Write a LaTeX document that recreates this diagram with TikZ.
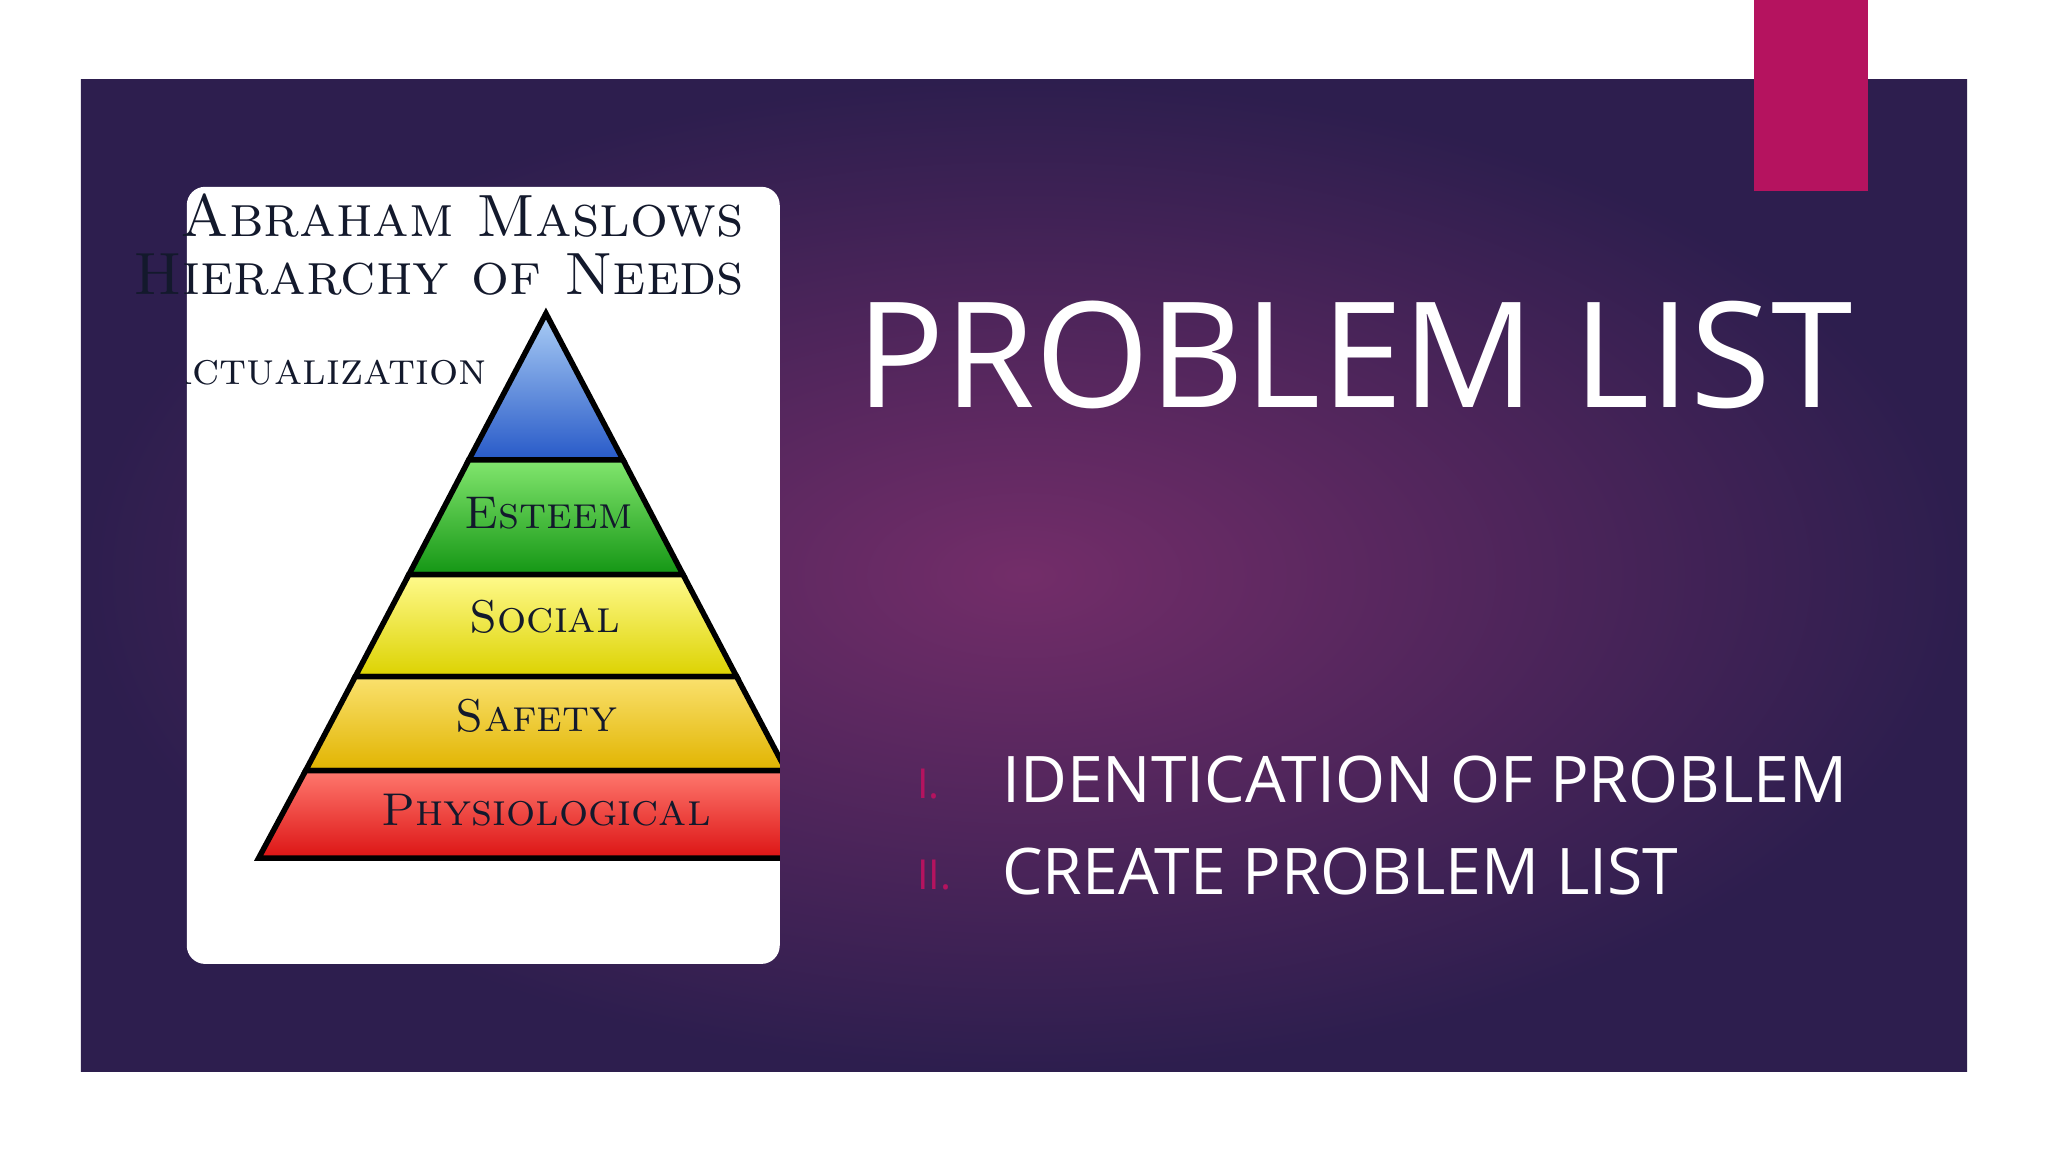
\documentclass[tikz,border=0pt]{standalone}
\usepackage{fontspec}
\newfontfamily\osans{Open Sans}
\usetikzlibrary{shadings}
\definecolor{magenta}{HTML}{B5135F}
\definecolor{navy}{HTML}{1F2A4A}
\tikzset{lbl/.style={font=\fontsize{10}{12}\selectfont\scshape, text=navy!60!black},
 band/.style={draw=black, line width=1.2pt}}
\begin{document}
\begin{tikzpicture}[x=0.1mm,y=-0.1mm]
\useasboundingbox (0,0) rectangle (1568,882);
\fill[white] (0,0) rectangle (1568,882);
\shade[inner color={rgb,255:red,115;green,45;blue,105}, outer color={rgb,255:red,45;green,30;blue,78}] (62,61) rectangle (1506,820);
\fill[magenta] (1343,0) rectangle (1430,146);
\node (card) [fill=white, rounded corners=4pt, minimum width=45.4mm, minimum height=59.5mm, inner sep=0] at (370,440.5) {};
\begin{scope}
\clip (143,143) rectangle (597,738);
\shade[band, top color={rgb,255:red,170;green,205;blue,245}, bottom color={rgb,255:red,40;green,90;blue,200}] (418,240) -- (477,352) -- (359,352) -- cycle;
\shade[band, top color={rgb,255:red,130;green,230;blue,110}, bottom color={rgb,255:red,20;green,150;blue,20}] (359,352) -- (477,352) -- (523,440) -- (313,440) -- cycle;
\shade[band, top color={rgb,255:red,255;green,250;blue,140}, bottom color={rgb,255:red,220;green,210;blue,0}] (313,440) -- (523,440) -- (564,518) -- (272,518) -- cycle;
\shade[band, top color={rgb,255:red,250;green,225;blue,110}, bottom color={rgb,255:red,225;green,180;blue,0}] (272,518) -- (564,518) -- (602,590) -- (234,590) -- cycle;
\shade[band, top color={rgb,255:red,255;green,120;blue,110}, bottom color={rgb,255:red,220;green,20;blue,20}] (234,590) -- (602,590) -- (638,657) -- (198,657) -- cycle;
\node (sa) [lbl, anchor=east] at (385,282) {Self-Actualization};
\end{scope}
\node (t1) [lbl, font=\fontsize{13}{15}\selectfont\scshape, anchor=east] at (582,165) {Abraham Maslows};
\node (t2) [lbl, font=\fontsize{13}{15}\selectfont\scshape, anchor=east] at (582,210) {Hierarchy of Needs};
\node (es) [lbl] at (420,393) {Esteem};
\node (so) [lbl] at (417,472) {Social};
\node (sf) [lbl] at (411,548) {Safety};
\node (ph) [lbl] at (418,620) {Physiological};
\node (title) [text=white, font=\osans\fontsize{32}{36}\selectfont] at (1037,272) {PROBLEM LIST};
\node (n1) [text=magenta, font=\osans\fontsize{9}{10}\selectfont, anchor=west] at (690,600) {I.};
\node (n2) [text=magenta, font=\osans\fontsize{9}{10}\selectfont, anchor=west] at (690,670) {II.};
\node (i1) [text=white, font=\osans\fontsize{14}{16}\selectfont, anchor=west] at (755,597) {IDENTICATION OF PROBLEM};
\node (i2) [text=white, font=\osans\fontsize{14}{16}\selectfont, anchor=west] at (755,667) {CREATE PROBLEM LIST};
\end{tikzpicture}
\end{document}
